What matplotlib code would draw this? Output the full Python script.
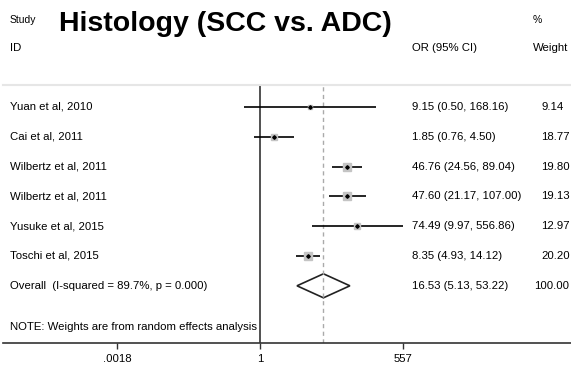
import numpy as np
import matplotlib
matplotlib.use('Agg')
import matplotlib.pyplot as plt
from matplotlib.transforms import blended_transform_factory

plt.rcParams['font.family'] = ['Liberation Sans', 'DejaVu Sans']

# study data
studies = ['Yuan et al, 2010', 'Cai et al, 2011', 'Wilbertz et al, 2011',
           'Wilbertz et al, 2011', 'Yusuke et al, 2015', 'Toschi et al, 2015']
odds = [9.15, 1.85, 46.76, 47.60, 74.49, 8.35]
lower = [0.50, 0.76, 24.56, 21.17, 9.97, 4.93]
upper = [168.16, 4.50, 89.04, 107.00, 556.86, 14.12]
weights = [9.14, 18.77, 19.80, 19.13, 12.97, 20.20]

overall_label = 'Overall  (I-squared = 89.7%, p = 0.000)'
overall = [16.53, 5.13, 53.22]
overall_weight = 100.00

ticks = [0.0018, 1, 557]
tick_labels = ['.0018', '1', '557']

W, H = 571, 369
fig = plt.figure(figsize=(W / 100, H / 100), dpi=100)
# axes: x from px 3 to 571, y from px 85 to 343
ax = fig.add_axes([3 / W, 1 - 343 / H, 1 - 3 / W, (343 - 85) / H])

px_per_ln = 143 / np.log(557)
ax.set_xscale('log')
ax.set_xlim(np.exp((3 - 260) / px_per_ln), np.exp((571 - 260) / px_per_ln))
row_h = 29.8
ax.set_ylim((343 - 107) / row_h, (85 - 107) / row_h)

for s in ['left', 'right']:
    ax.spines[s].set_visible(False)
ax.spines['top'].set_color('#e6e6e6')
ax.spines['top'].set_linewidth(1.5)
ax.spines['bottom'].set_color('#333333')
ax.spines['bottom'].set_linewidth(1.2)
ax.set_yticks([])
ax.set_xticks(ticks)
ax.set_xticklabels(tick_labels, fontsize=8.2)
ax.xaxis.set_minor_locator(plt.NullLocator())
ax.tick_params(axis='x', direction='out', length=4, width=1, color='#333333', pad=4)

ax.axvline(1, color='#222222', lw=1.1)
ax.axvline(overall[0], color='#aaaaaa', lw=1, ls=(0, (3, 2.5)))

rows = np.arange(len(studies))
for r in rows:
    ax.plot([lower[r], upper[r]], [r, r], color='black', lw=1.2, solid_capstyle='butt')
    side = 5.2 * np.sqrt(weights[r] / 20.0)
    ax.plot(odds[r], r, marker='s', ms=side, color='#c4c4c4', mec='#c4c4c4')
    ax.plot(odds[r], r, marker='D', ms=1.8, color='black')

# overall diamond
r0 = len(studies)
dh = 12 / row_h
ax.fill([overall[1], overall[0], overall[2], overall[0]],
        [r0, r0 - dh, r0, r0 + dh], facecolor='white', edgecolor='#222222', lw=1.2)

# text columns
tr = blended_transform_factory(fig.transFigure, ax.transData)
fs = 8.2
for r in rows:
    ax.text(10 / W, r, studies[r], transform=tr, fontsize=fs, va='center', clip_on=False)
    ax.text(412 / W, r, '%.2f (%.2f, %.2f)' % (odds[r], lower[r], upper[r]),
            transform=tr, fontsize=fs, va='center', clip_on=False)
    ax.text(541 / W, r, '%.2f' % weights[r], transform=tr, fontsize=fs, va='center', clip_on=False)
ax.text(10 / W, r0, overall_label, transform=tr, fontsize=fs, va='center', clip_on=False)
ax.text(412 / W, r0, '%.2f (%.2f, %.2f)' % tuple(overall), transform=tr, fontsize=fs,
        va='center', clip_on=False)
ax.text(534 / W, r0, '%.2f' % overall_weight, transform=tr, fontsize=fs, va='center', clip_on=False)
ax.text(10 / W, (327 - 107) / row_h, 'NOTE: Weights are from random effects analysis',
        transform=tr, fontsize=fs, va='center', clip_on=False)

# headers
fig.text(10 / W, 1 - 20 / H, 'Study', fontsize=7.5, va='center')
fig.text(10 / W, 1 - 48 / H, 'ID', fontsize=fs, va='center')
fig.text(412 / W, 1 - 48 / H, 'OR (95% CI)', fontsize=fs, va='center')
fig.text(533 / W, 1 - 20 / H, '%', fontsize=7.5, va='center')
fig.text(533 / W, 1 - 48 / H, 'Weight', fontsize=fs, va='center')
fig.text(59 / W, 1 - 31 / H, 'Histology (SCC vs. ADC)', fontsize=20.5, fontweight='bold',
         va='baseline')

fig.savefig('out.png', dpi=100, facecolor='white')
